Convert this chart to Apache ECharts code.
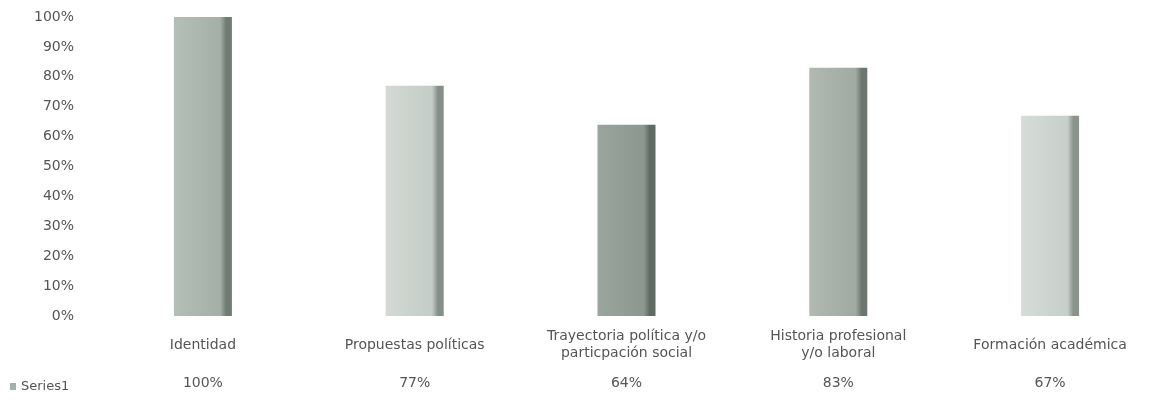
<!DOCTYPE html>
<html>
<head>
<meta charset="utf-8">
<script src="https://cdn.jsdelivr.net/npm/echarts@6/dist/echarts.min.js"></script>
<style>html,body{margin:0;padding:0;background:#fff;}#c{width:1156px;height:404px;}</style>
</head>
<body>
<div id="c"></div>
<script>
const categories = ['Identidad', 'Propuestas políticas', 'Trayectoria política y/o\nparticpación social', 'Historia profesional\ny/o laboral', 'Formación académica'];
const values = [100, 77, 64, 83, 67];
const seriesName = 'Series1';
const yTicks = [0, 10, 20, 30, 40, 50, 60, 70, 80, 90, 100];

const fills = [
  ['#b4bfb7', '#a3afa7', '#6f7b73'],
  ['#d3dad5', '#c3ccc6', '#858f88'],
  ['#9aa59d', '#8c978f', '#5f6a62'],
  ['#b0bab3', '#a0aaa3', '#6d7770'],
  ['#d6ddd8', '#c7cfca', '#8a948d']
];
const grad = (c) => new echarts.graphic.LinearGradient(0, 0, 1, 0, [
  {offset: 0, color: c[0]}, {offset: 0.8, color: c[1]}, {offset: 0.9, color: c[2]}, {offset: 1, color: c[2]}
]);

const chart = echarts.init(document.getElementById('c'));
const txt = {color: '#555', fontFamily: 'DejaVu Sans, sans-serif', fontSize: 14};
chart.setOption({
  animation: false,
  legend: {
    data: [seriesName], left: 5, top: 375, itemWidth: 6, itemHeight: 7, itemGap: 3,
    textStyle: Object.assign({}, txt, {fontSize: 13}), icon: 'rect'
  },
  grid: {left: 97, top: 17, width: 1065, height: 299},
  xAxis: [
    {
      type: 'category', data: categories, position: 'bottom',
      axisLine: {show: false}, axisTick: {show: false},
      axisLabel: Object.assign({verticalAlign: 'middle', margin: 29, lineHeight: 17, interval: 0}, txt)
    },
    {
      type: 'category', data: values.map(v => v + '%'), position: 'bottom',
      axisLine: {show: false}, axisTick: {show: false},
      axisLabel: Object.assign({verticalAlign: 'middle', margin: 67, interval: 0}, txt)
    }
  ],
  yAxis: {
    type: 'value', min: 0, max: 100, interval: 10,
    axisLine: {show: false}, axisTick: {show: false}, splitLine: {show: false},
    axisLabel: Object.assign({formatter: '{value}%', margin: 23}, txt)
  },
  series: [{
    name: seriesName, type: 'bar', barWidth: 58, xAxisIndex: 0,
    itemStyle: {color: '#a3afa7'},
    data: values.map((v, i) => ({value: v, itemStyle: {color: grad(fills[i])}}))
  }]
});
</script>
</body>
</html>
